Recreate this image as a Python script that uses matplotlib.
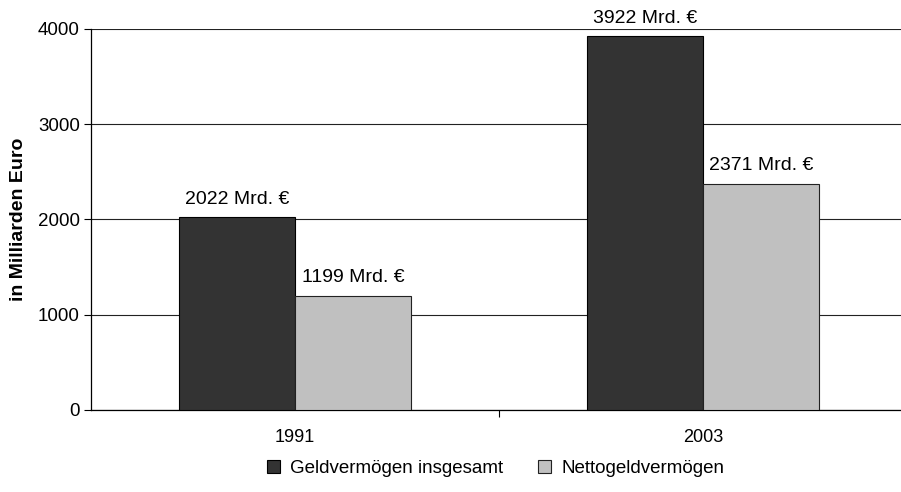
import matplotlib.pyplot as plt
import numpy as np

plt.rcParams['font.family'] = ['Liberation Sans', 'DejaVu Sans']

# Daten
jahre = ['1991', '2003']
geldvermoegen = [2022, 3922]
netto = [1199, 2371]
serien = ['Geldvermögen insgesamt', 'Nettogeldvermögen']

fig = plt.figure(figsize=(9.01, 4.92), dpi=100)
ax = fig.add_axes([0.101, 0.1667, 0.9057, 0.7744])

x = np.arange(len(jahre))
w = 0.285
b1 = ax.bar(x - w / 2, geldvermoegen, w, color='#333333', edgecolor='black',
            linewidth=0.8, label=serien[0], zorder=3)
b2 = ax.bar(x + w / 2, netto, w, color='#c0c0c0', edgecolor='#222222',
            linewidth=0.8, label=serien[1], zorder=3)

for bars in (b1, b2):
    for r in bars:
        ax.annotate(f'{int(r.get_height())} Mrd. €',
                    (r.get_x() + r.get_width() / 2, r.get_height()),
                    xytext=(0, 7), textcoords='offset points',
                    ha='center', va='bottom', fontsize=14)

ax.set_xlim(-0.5, 1.5)
ax.set_ylim(0, 4000)
ax.set_yticks([0, 1000, 2000, 3000, 4000])
ax.yaxis.grid(True, color='#222222', linewidth=0.8, zorder=0)

# Tick zwischen den Kategorien, Beschriftung in der Mitte
ax.set_xticks([0.5])
ax.set_xticklabels([''])
ax.set_xticks(x, minor=True)
ax.set_xticklabels(jahre, minor=True)
ax.tick_params(axis='x', which='minor', length=0, pad=14, labelsize=13)
ax.tick_params(axis='x', which='major', length=5, direction='out')
ax.tick_params(axis='y', length=5, direction='out', labelsize=13.5, pad=3)

for s in ['top', 'right']:
    ax.spines[s].set_visible(False)
ax.spines['left'].set_linewidth(0.9)
ax.spines['bottom'].set_linewidth(0.9)

ax.set_ylabel('in Milliarden Euro', fontsize=14, fontweight='bold', labelpad=8)

fig.legend(loc='center', bbox_to_anchor=(0.55, 0.048), ncol=2, frameon=False,
           fontsize=13.5, handlelength=0.7, handleheight=0.7, handletextpad=0.53,
           columnspacing=1.87)

fig.savefig('out.png', dpi=100)
